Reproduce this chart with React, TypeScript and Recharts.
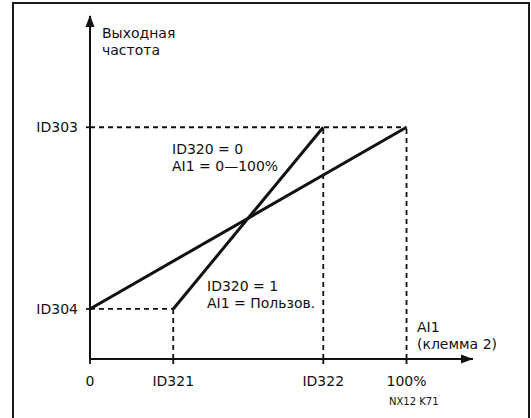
import React from "react";
import {
  LineChart,
  Line,
  XAxis,
  YAxis,
  ReferenceLine,
  ReferenceDot,
} from "recharts";

// x axis: AI1 input, 0..100 %
const xTickValues = [0, 26.3, 73.7, 100];
const xTickLabels = ["0", "ID321", "ID322", "100%"];
// y axis: output frequency
const yTickValues = [21.6, 100];
const yTickLabels = ["ID304", "ID303"];

// ID320 = 0 (AI1 = 0—100%)
const standardX = [0, 100];
const standardY = [21.6, 100];
// ID320 = 1 (AI1 = custom range)
const customX = [26.3, 73.7];
const customY = [21.6, 100];

const X_MAX = 121;
const Y_MAX = 148;

const FONT = "'DejaVu Sans', Arial, Helvetica, sans-serif";
const INK = "#111";

const chartData = [
  ...standardX.map((x, i) => ({ x, std: standardY[i] })),
  ...customX.map((x, i) => ({ x, cus: customY[i] })),
].sort((a, b) => a.x - b.x);

const labelOf = (values: number[], labels: string[]) => (v: number) => {
  const i = values.indexOf(v);
  return i >= 0 ? labels[i] : "";
};

const ArrowRight = (props: any) => {
  const { cx, cy } = props;
  return (
    <polygon
      points={`${cx},${cy} ${cx - 12},${cy - 4.5} ${cx - 12},${cy + 4.5}`}
      fill={INK}
    />
  );
};

const ArrowUp = (props: any) => {
  const { cx, cy } = props;
  return (
    <polygon
      points={`${cx},${cy - 1} ${cx - 4.5},${cy + 11} ${cx + 4.5},${cy + 11}`}
      fill={INK}
    />
  );
};

const dash = { stroke: INK, strokeWidth: 1.8, strokeDasharray: "5 4" };

export default function App() {
  const tick = { fill: INK, fontSize: 14, fontFamily: FONT };
  const txt = { fill: INK, fontSize: 14, fontFamily: FONT };
  return (
    <div style={{ position: "absolute", left: 0, top: 0, width: 531, height: 418, overflow: "hidden", background: "#fff" }}>
      <div
        style={{
          position: "absolute",
          left: 12,
          top: 2,
          width: 514,
          height: 440,
          border: "2px solid #1a1a1a",
        }}
      />
      <div style={{ position: "absolute", left: 0, top: 0 }}>
        <LineChart
          width={531}
          height={418}
          data={chartData}
          margin={{ top: 16, right: 58, left: 30, bottom: 19 }}
        >
          <XAxis
            type="number"
            dataKey="x"
            domain={[0, X_MAX]}
            ticks={xTickValues}
            tickFormatter={labelOf(xTickValues, xTickLabels)}
            height={40}
            tick={tick}
            tickSize={5}
            tickMargin={12}
            axisLine={{ stroke: INK, strokeWidth: 2 }}
            tickLine={{ stroke: INK, strokeWidth: 1.8 }}
            allowDataOverflow
          />
          <YAxis
            type="number"
            domain={[0, Y_MAX]}
            ticks={yTickValues}
            tickFormatter={labelOf(yTickValues, yTickLabels)}
            width={60}
            tick={tick}
            tickSize={4}
            tickMargin={8}
            axisLine={{ stroke: INK, strokeWidth: 2 }}
            tickLine={{ stroke: INK, strokeWidth: 1.8 }}
            allowDataOverflow
          />

          <ReferenceLine segment={[{ x: 0, y: standardY[1] }, { x: standardX[1], y: standardY[1] }]} {...dash} />
          <ReferenceLine segment={[{ x: customX[1], y: 0 }, { x: customX[1], y: customY[1] }]} {...dash} />
          <ReferenceLine segment={[{ x: standardX[1], y: 0 }, { x: standardX[1], y: standardY[1] }]} {...dash} />
          <ReferenceLine segment={[{ x: 0, y: customY[0] }, { x: customX[0], y: customY[0] }]} {...dash} />
          <ReferenceLine segment={[{ x: customX[0], y: 0 }, { x: customX[0], y: customY[0] }]} {...dash} />

          <Line
            dataKey="std"
            stroke={INK}
            strokeWidth={3}
            dot={false}
            connectNulls
            isAnimationActive={false}
          />
          <Line
            dataKey="cus"
            stroke={INK}
            strokeWidth={3}
            dot={false}
            connectNulls
            isAnimationActive={false}
          />

          <ReferenceDot x={X_MAX} y={0} r={0} shape={ArrowRight} />
          <ReferenceDot x={0} y={Y_MAX} r={0} shape={ArrowUp} />

          <text x={102} y={38} {...txt}>Выходная</text>
          <text x={102} y={55} {...txt}>частота</text>
          <text x={172} y={154} {...txt}>ID320 = 0</text>
          <text x={172} y={171} {...txt}>AI1 = 0—100%</text>
          <text x={207} y={291} {...txt}>ID320 = 1</text>
          <text x={207} y={308} {...txt}>AI1 = Пользов.</text>
          <text x={417} y={332} {...txt}>AI1</text>
          <text x={417} y={349} {...txt}>(клемма 2)</text>
          <text x={389} y={405} fill={INK} fontSize={10} fontFamily={FONT}>NX12 K71</text>
        </LineChart>
      </div>
    </div>
  );
}
